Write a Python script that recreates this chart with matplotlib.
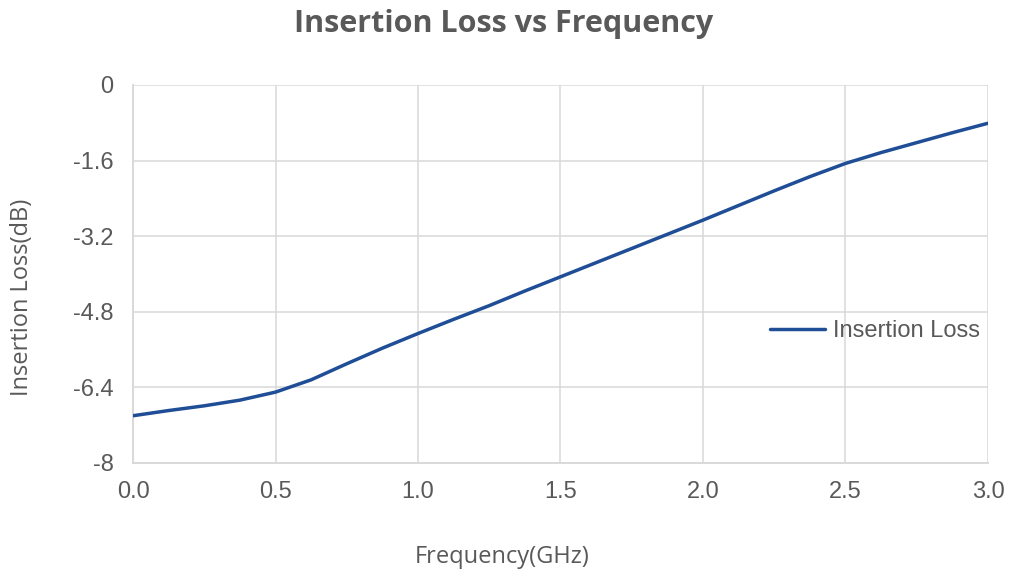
import matplotlib.pyplot as plt
import numpy as np

# values
freq_ghz = [0.0, 0.125, 0.25, 0.375, 0.5, 0.625, 0.75, 0.875, 1.0, 1.125, 1.25,
            1.375, 1.5, 1.625, 1.75, 1.875, 2.0, 2.125, 2.25, 2.375, 2.5, 2.625,
            2.75, 2.875, 3.0]
insertion_loss_db = [-7.00, -6.89, -6.79, -6.67, -6.50, -6.24, -5.90, -5.57, -5.26,
                     -4.96, -4.67, -4.36, -4.06, -3.76, -3.46, -3.16, -2.86, -2.55,
                     -2.24, -1.94, -1.66, -1.43, -1.22, -1.01, -0.81]
x_ticks = [0.0, 0.5, 1.0, 1.5, 2.0, 2.5, 3.0]
y_ticks = [0, -1.6, -3.2, -4.8, -6.4, -8]
y_tick_labels = ["0", "-1.6", "-3.2", "-4.8", "-6.4", "-8"]

LINE_COLOR = "#1f4e96"
GRID_COLOR = "#d9d9d9"
TEXT_COLOR = "#595959"


def plot_insertion_loss():
    fig = plt.figure(figsize=(10.13, 5.75), dpi=100)
    ax = fig.add_axes([0.1313, 0.1948, 0.844, 0.6574])

    ax.plot(freq_ghz, insertion_loss_db, color=LINE_COLOR, linewidth=2.5,
            label="Insertion Loss", solid_capstyle="round", solid_joinstyle="round",
            zorder=3)

    ax.set_xlim(0, 3.0)
    ax.set_ylim(-8, 0)
    ax.set_xticks(x_ticks)
    ax.set_xticklabels([f"{t:.1f}" for t in x_ticks])
    ax.set_yticks(y_ticks)
    ax.set_yticklabels(y_tick_labels)

    ax.grid(True, color=GRID_COLOR, linewidth=1.1)
    for side in ["top", "right"]:
        ax.spines[side].set_visible(False)
    for side in ["left", "bottom"]:
        ax.spines[side].set_color(GRID_COLOR)
        ax.spines[side].set_linewidth(1.4)
    ax.tick_params(length=0, labelsize=17, labelcolor=TEXT_COLOR)
    ax.tick_params(axis="x", pad=13)
    ax.tick_params(axis="y", pad=14)
    for lbl in ax.get_xticklabels() + ax.get_yticklabels():
        lbl.set_family("Liberation Sans")

    fig.text(0.497, 0.958, "Insertion Loss vs Frequency", ha="center", va="center",
             fontsize=22, fontweight="bold", color=TEXT_COLOR, family="Open Sans")
    fig.text(0.496, 0.031, "Frequency(GHz)", ha="center", va="center",
             fontsize=17, color=TEXT_COLOR, family="Open Sans")
    fig.text(0.0217, 0.482, "Insertion Loss(dB)", ha="center", va="center",
             rotation=90, fontsize=17, color=TEXT_COLOR, family="Open Sans")

    leg = ax.legend(loc="center left", bbox_to_anchor=(0.745, 0.349), frameon=False,
                    borderpad=0, borderaxespad=0, handlelength=2.33,
                    handletextpad=0.34,
                    prop={"family": "Liberation Sans", "size": 17})
    for t in leg.get_texts():
        t.set_color(TEXT_COLOR)

    fig.savefig("out.png", dpi=100)


if __name__ == "__main__":
    plot_insertion_loss()
